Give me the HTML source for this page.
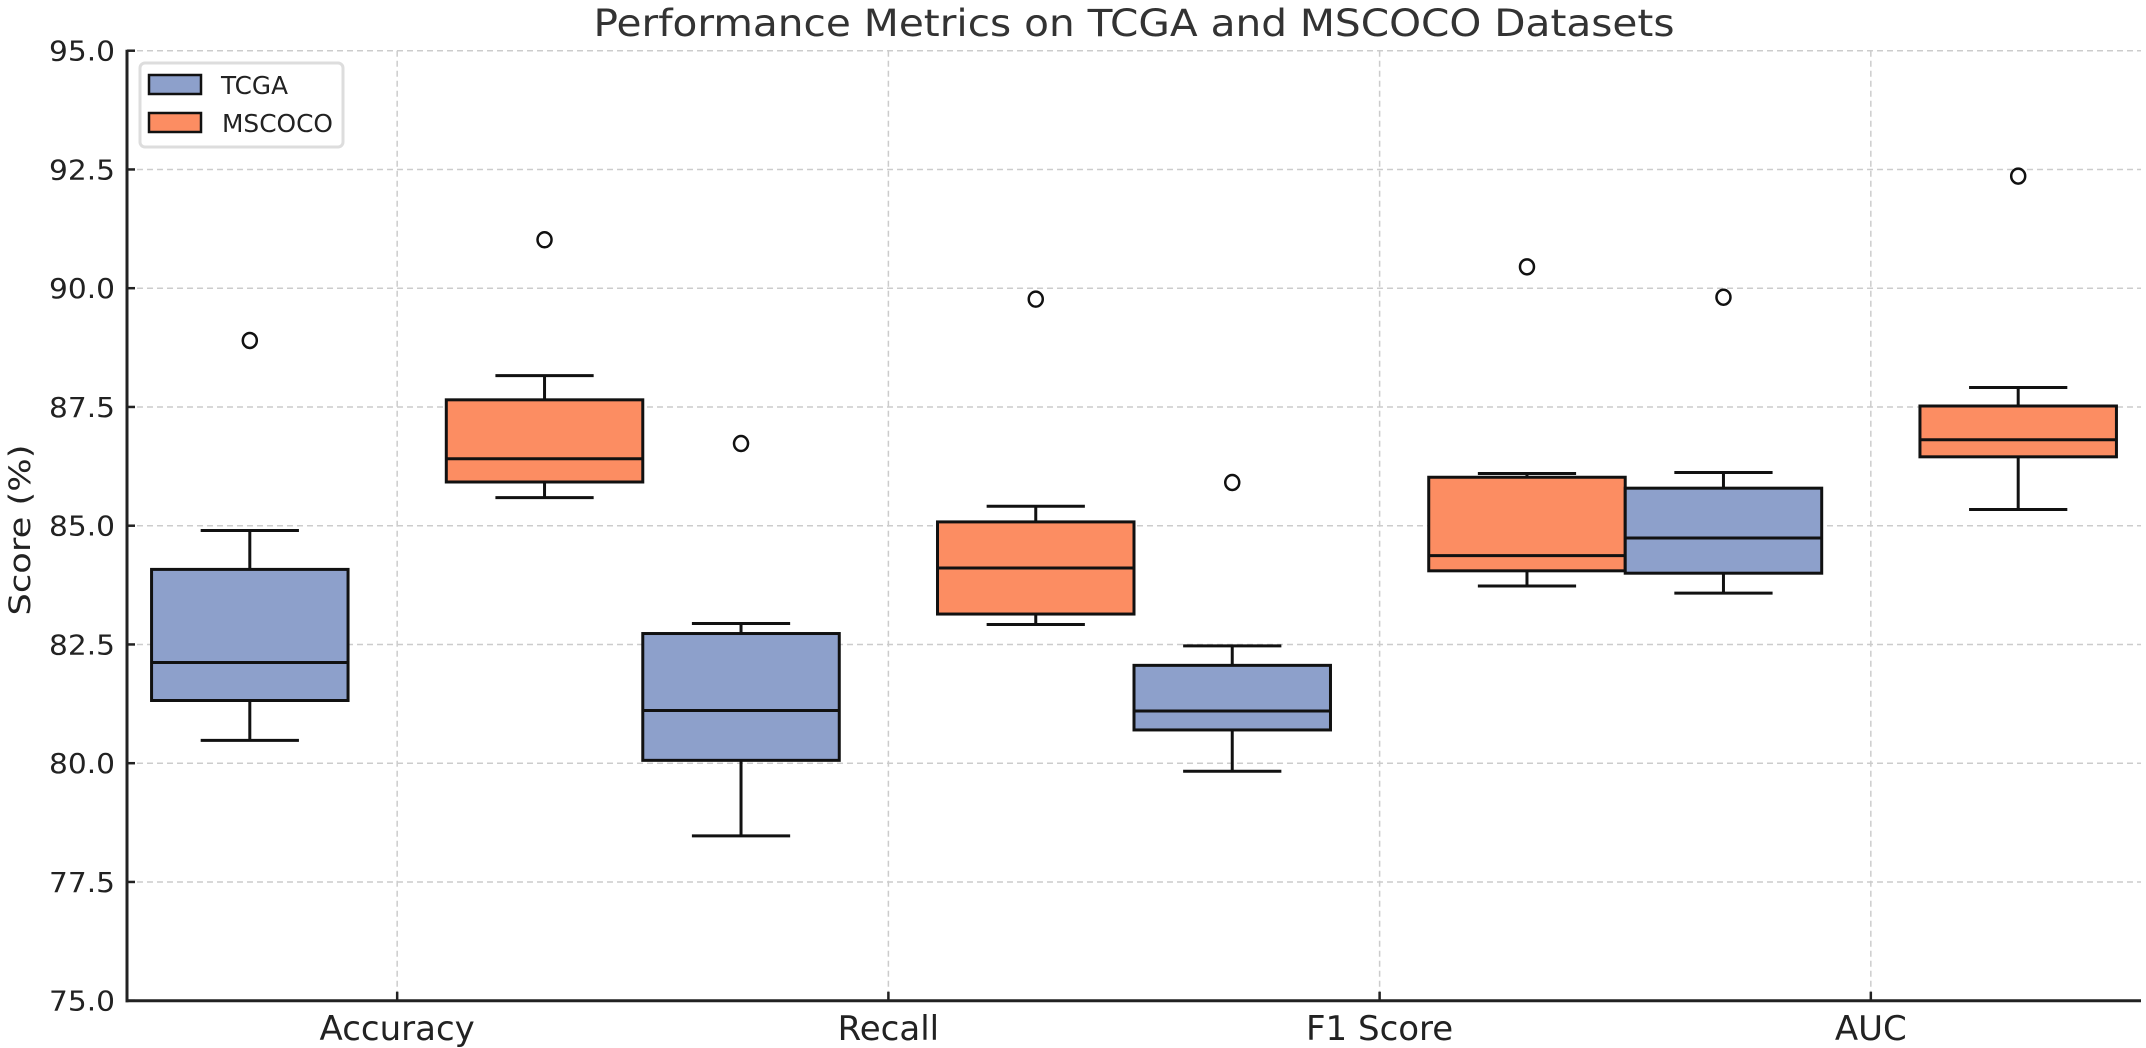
<!DOCTYPE html>
<html><head><meta charset="utf-8"><style>
html,body{margin:0;padding:0;background:#fff;}
svg{display:block;font-family:"DejaVu Sans","Liberation Sans",sans-serif;}
</style></head><body>
<svg id="chart" width="2146" height="1048" viewBox="0 0 2146 1048">
<g id="grid"></g>
<g id="boxes"></g>
<g id="axes"></g>
<text x="1134" y="36" font-size="37" fill="#333" text-anchor="middle" textLength="1081" lengthAdjust="spacingAndGlyphs">Performance Metrics on TCGA and MSCOCO Datasets</text>
<text transform="translate(30,530) rotate(-90)" font-size="29" fill="#222" text-anchor="middle" textLength="171" lengthAdjust="spacingAndGlyphs">Score (%)</text>
<g>
<rect x="140" y="63" width="203" height="84" rx="5" fill="#fff" stroke="#ddd" stroke-width="3"/>
<g>
<rect x="149" y="75" width="52" height="19" fill="#8DA0CB" stroke="#111" stroke-width="2.5"/>
<text x="221" y="94" font-size="25" fill="#222" textLength="67" lengthAdjust="spacingAndGlyphs">TCGA</text>
</g>
<g>
<rect x="149" y="113" width="52" height="19" fill="#FC8D62" stroke="#111" stroke-width="2.5"/>
<text x="222" y="132" font-size="25" fill="#222" textLength="111" lengthAdjust="spacingAndGlyphs">MSCOCO</text>
</g>
</g>
</svg>
<script>
const categories = ["Accuracy", "Recall", "F1 Score", "AUC"];
const yTicks = [75.0, 77.5, 80.0, 82.5, 85.0, 87.5, 90.0, 92.5, 95.0];
// [whiskerLow, q1, median, q3, whiskerHigh]
const tcgaStats = [
  [80.48, 81.32, 82.12, 84.08, 84.90],
  [78.47, 80.06, 81.11, 82.73, 82.94],
  [79.83, 80.70, 81.10, 82.06, 82.47],
  [83.58, 84.00, 84.74, 85.79, 86.12]
];
const tcgaOutliers = [88.90, 86.73, 85.91, 89.81];
const mscocoStats = [
  [85.59, 85.92, 86.41, 87.65, 88.16],
  [82.92, 83.14, 84.11, 85.08, 85.41],
  [83.73, 84.05, 84.37, 86.02, 86.10],
  [85.34, 86.45, 86.81, 87.52, 87.91]
];
const mscocoOutliers = [91.02, 89.77, 90.45, 92.36];

const NS = "http://www.w3.org/2000/svg";
const L = 127, R = 2141, T = 50.7, B = 1000.7;
const xMin = -0.55, xMax = 3.55, yMin = 75, yMax = 95;
const xs = v => L + (v - xMin) / (xMax - xMin) * (R - L);
const ys = v => B - (v - yMin) / (yMax - yMin) * (B - T);
function mk(tag, attrs, parent) {
  const el = document.createElementNS(NS, tag);
  for (const k in attrs) el.setAttribute(k, attrs[k]);
  parent.appendChild(el);
  return el;
}
const grid = document.getElementById("grid");
const axes = document.getElementById("axes");
const boxes = document.getElementById("boxes");

yTicks.forEach(t => {
  const y = ys(t);
  if (t > yMin) {
    const g = mk("line", {x1: L, x2: R, y1: y, y2: y, stroke: "#ccc", "stroke-width": 1.5, "stroke-dasharray": "6,4"}, grid);
    
    
  }
  const tk = mk("line", {x1: L, x2: L + 8, y1: y, y2: y, stroke: "#222", "stroke-width": 2.5}, axes);
  
  
  const lb = mk("text", {x: 115, y: y + 10, "font-size": 28, fill: "#222", "text-anchor": "end", textLength: 66, lengthAdjust: "spacingAndGlyphs"}, axes);
  lb.textContent = t.toFixed(1);
  
  
});
categories.forEach((c, i) => {
  const x = xs(i);
  const g = mk("line", {x1: x, x2: x, y1: T, y2: B, stroke: "#ccc", "stroke-width": 1.5, "stroke-dasharray": "6,4"}, grid);
  
  
  const tk = mk("line", {x1: x, x2: x, y1: B, y2: B - 9, stroke: "#222", "stroke-width": 2.5}, axes);
  
  
  const lb = mk("text", {x: x, y: 1040, "font-size": 34, fill: "#222", "text-anchor": "middle"}, axes);
  lb.textContent = c;
  
  
});
const sl = mk("line", {x1: L, x2: L, y1: T - 1, y2: B + 1.5, stroke: "#222", "stroke-width": 3}, axes);


const sb = mk("line", {x1: L - 1.5, x2: R, y1: B, y2: B, stroke: "#222", "stroke-width": 3}, axes);



function drawBox(stats, outlier, pos, color, name) {
  const g = mk("g", {}, boxes);
  
  
  const cx = xs(pos), hw = (xs(pos + 0.2) - xs(pos - 0.2)) / 2, cw = hw / 2;
  const [lo, q1, med, q3, hi] = stats;
  const st = {stroke: "#111", "stroke-width": 3};
  mk("line", Object.assign({x1: cx, x2: cx, y1: ys(q3), y2: ys(hi)}, st), g);
  mk("line", Object.assign({x1: cx, x2: cx, y1: ys(q1), y2: ys(lo)}, st), g);
  mk("line", Object.assign({x1: cx - cw, x2: cx + cw, y1: ys(hi), y2: ys(hi)}, st), g);
  mk("line", Object.assign({x1: cx - cw, x2: cx + cw, y1: ys(lo), y2: ys(lo)}, st), g);
  mk("rect", Object.assign({x: cx - hw, y: ys(q3), width: 2 * hw, height: ys(q1) - ys(q3), fill: color}, st), g);
  mk("line", Object.assign({x1: cx - hw, x2: cx + hw, y1: ys(med), y2: ys(med)}, st), g);
  const o = mk("ellipse", {cx: cx, cy: ys(outlier), rx: 7, ry: 7.5, fill: "none", stroke: "#111", "stroke-width": 2.5}, g);
  
  
}
categories.forEach((c, i) => {
  drawBox(tcgaStats[i], tcgaOutliers[i], i - 0.3, "#8DA0CB", "box-tcga-" + i);
  drawBox(mscocoStats[i], mscocoOutliers[i], i + 0.3, "#FC8D62", "box-mscoco-" + i);
});
</script>
</body></html>
